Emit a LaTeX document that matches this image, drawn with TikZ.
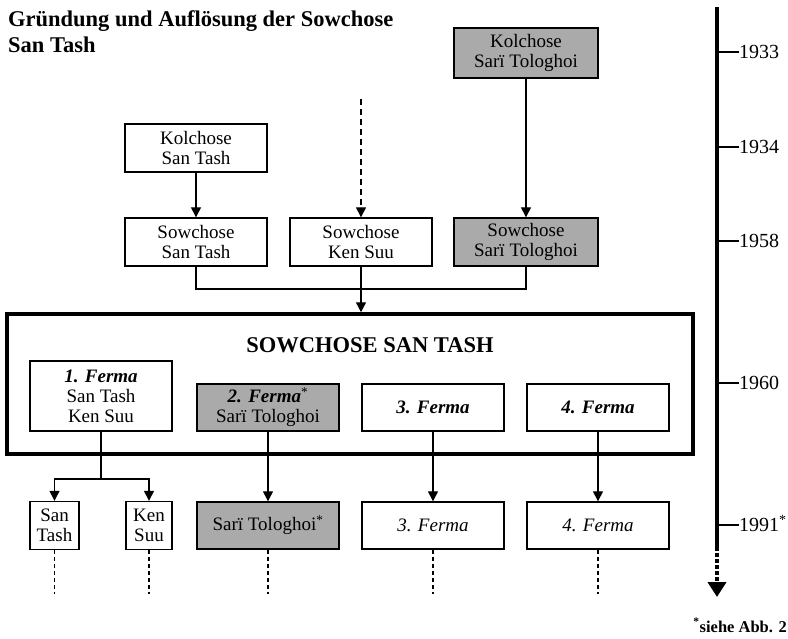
\documentclass[tikz,border=0pt]{standalone}
\usepackage{fontspec}
\setmainfont{Liberation Serif}
\usetikzlibrary{arrows.meta,positioning}
\definecolor{boxgray}{RGB}{170,170,170}
\newcommand{\boxfont}{\fontsize{19}{20}\selectfont}
\newcommand{\titlefont}{\fontsize{22.5}{26}\selectfont\bfseries}
\newcommand{\yearfont}{\fontsize{20}{22}\selectfont}
\newcommand{\notefont}{\fontsize{16.5}{18}\selectfont\bfseries}
\tikzset{
  box/.style={rectangle, draw=black, line width=1.4pt, minimum width=142pt, minimum height=48pt, inner sep=0pt, align=center, font=\boxfont},
  graybox/.style={box, fill=boxgray},
  link/.style={line width=1.3pt},
  year/.style={anchor=west, inner sep=0pt, text height=13.5pt, text depth=0pt, font=\yearfont},
}

\begin{document}
\begin{tikzpicture}[x=1pt, y=-1pt, >={Triangle[length=10pt,width=10pt]}, node distance=165pt]
          \useasboundingbox (0,0) rectangle (788,638);
          \node[anchor=base west, inner sep=0pt, font=\titlefont] (title1) at (8,26) {Gründung und Auflösung der Sowchose};
          \node[anchor=base west, inner sep=0pt, font=\titlefont] (title2) at (8,52) {San Tash};

          \node[box] (kst) at (196,148) {Kolchose\\San Tash};
          \node[box, node distance=94pt] (sst) [below of=kst] {Sowchose\\San Tash};
          \node[box] (sks) [right of=sst] {Sowchose\\Ken Suu};
          \node[graybox, minimum width=144pt] (sso) [right of=sks] {Sowchose\\Sarï Tologhoi};
          \node[graybox, minimum width=144pt, minimum height=50pt, node distance=189pt] (kso) [above of=sso] {Kolchose\\Sarï Tologhoi};
          \coordinate (kks) at (361,99);
          \coordinate (merge) at (361,289);

          \node[draw, line width=3.5pt, minimum width=686pt, minimum height=140pt] (farm) at (350,384) {};
          \node[anchor=base, inner sep=0pt, font=\titlefont] (farmname) at (370,352) {SOWCHOSE SAN TASH};
          \node[box, minimum height=70pt] (f1) at (101,396) {\textbf{\textit{1. Ferma}}\\San Tash\\Ken Suu};
          \node[graybox, minimum height=47pt] (f2) at (268,407.5) {\textbf{\textit{2. Ferma}}\textsuperscript{*}\\Sarï Tologhoi};
          \node[box, minimum height=47pt] (f3) [right of=f2] {\textbf{\textit{3. Ferma}}};
          \node[box, minimum height=47pt] (f4) [right of=f3] {\textbf{\textit{4. Ferma}}};

          \node[box, minimum width=49pt] (n1) at (54.5,525.5) {San\\Tash};
          \node[box, minimum width=46pt] (n2) at (149,525.5) {Ken\\Suu};
          \node[graybox, minimum height=47pt, node distance=118pt] (n3) [below of=f2] {Sarï Tologhoi\textsuperscript{*}};
          \node[box, minimum height=47pt] (n4) [right of=n3] {\textit{3. Ferma}};
          \node[box, minimum height=47pt] (n5) [right of=n4] {\textit{4. Ferma}};
          \coordinate (split) at (101,479);

          \draw[->, link] (kst)--(sst);
          \draw[->, link, dash pattern=on 6pt off 4pt] (kks)--(sks);
          \draw[->, link] (kso)--(sso);
          \draw[link] (sst.south) |- (merge) -| (sso.south);
          \draw[->, link] (sks.south)--(sks.south |- farm.north);
          \draw[link] (f1)--(split);
          \draw[->, link] (split) -| (n1);
          \draw[->, link] (split) -| (n2);
          \draw[->, link] (f2)--(n3);
          \draw[->, link] (f3)--(n4);
          \draw[->, link] (f4)--(n5);
          \foreach \n in {n1,n2,n3,n4,n5}
            \draw[link, dash pattern=on 4pt off 3pt] (\n.south)--++(0,44);

          % timeline
          \coordinate (ttop) at (717,7);
          \coordinate (tdots) at (717,547);
          \coordinate (ttip) at (717,597);
          \draw[line width=4pt] (ttop)--(tdots);
          \draw[line width=4pt, dash pattern=on 4pt off 2pt, -{Triangle[length=15pt,width=18pt]}] (tdots)--(ttip);
          \foreach \y/\yr in {52/1933, 147/1934, 241/1958, 383/1960, 525/1991\textsuperscript{*}} {
            \node[year] (yr\y) at (739,\y) {\yr};
            \draw[link] (yr\y.west)--(yr\y.west -| ttop);
          }
          \node[anchor=base east, inner sep=0pt, font=\notefont] (note) at (787,632) {\textsuperscript{*}siehe Abb. 2};
        \end{tikzpicture}
\end{document}
